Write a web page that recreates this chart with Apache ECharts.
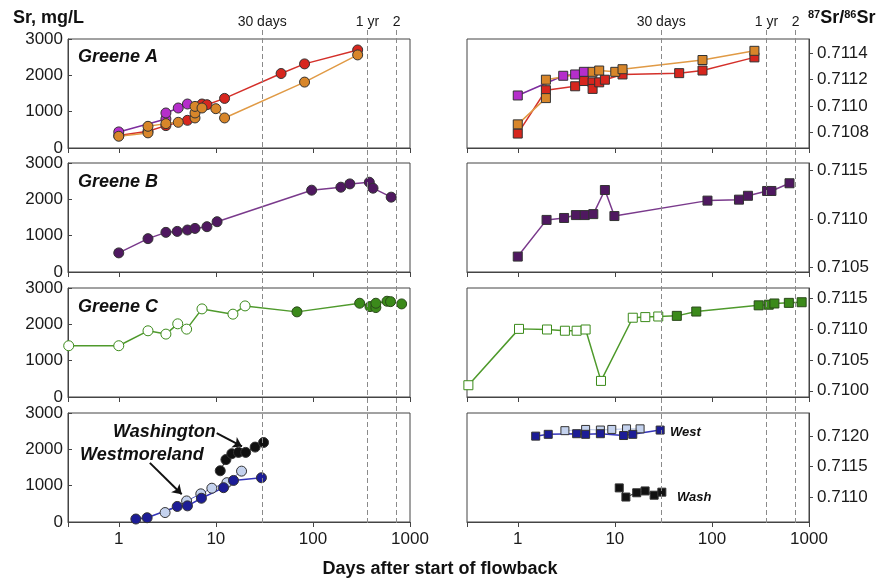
<!DOCTYPE html>
<html>
<head>
<meta charset="utf-8">
<script src="https://cdn.jsdelivr.net/npm/echarts@6/dist/echarts.min.js"></script>
<style>
html, body { margin: 0; padding: 0; background: #fff; }
#chart { width: 881px; height: 584px; }
</style>
</head>
<body>
<div id="chart"></div>
<script>
// [days after start of flowback, Sr mg/L]
var greeneA_red_sr = [[1.0,342],[2.0,460],[3.06,616],[5.1,762],[7.2,1211],[8.1,1192],[12.3,1365],[47,2050],[82,2315],[289,2699]];
var greeneA_orange_sr = [[1.0,323],[2.0,416],[2.0,597],[3.06,671],[4.1,707],[6.1,827],[6.1,964],[6.1,1145],[7.2,1101],[10,1082],[12.3,827],[82,1814],[289,2562]];
var greeneA_purple_sr = [[1.0,443],[3.06,800],[3.06,964],[4.1,1101],[5.1,1211]];
var greeneB_sr = [[1.0,526],[2.0,918],[3.06,1091],[4.0,1118],[5.1,1156],[6.1,1200],[8.1,1247],[10.3,1384],[97,2252],[194,2334],[240,2425],[381,2471],[416,2307],[640,2060]];
var greeneC_open_sr = [[0.305,1411],[1.0,1411],[2.0,1822],[3.06,1731],[4.05,2014],[5.0,1868],[7.2,2425],[15,2280],[20,2507]];
var greeneC_filled_sr = [[68.5,2343],[303,2581],[387,2488],[445,2461],[445,2581],[580,2636],[630,2625],[820,2562]];
var west_dark_sr = [[1.5,82],[1.96,117],[4.0,428],[5.1,444],[7.1,654],[12,945],[15.2,1144],[29.5,1218]];
var west_light_sr = [[3.0,260],[5.0,580],[7.0,775],[9.1,930],[13,1082],[18.4,1400]];
var wash_sr = [[11.1,1410],[12.7,1717],[14.6,1880],[17.1,1916],[20.3,1916],[25.4,2062],[31,2188]];

// [days, 87Sr/86Sr]
var greeneA_red_iso = [[1.0,0.71079],[1.95,0.71112],[3.9,0.71115],[4.8,0.71119],[5.9,0.71118],[5.9,0.71113],[6.9,0.71118],[7.9,0.71120],[12,0.71124],[46,0.71125],[80,0.71127],[274,0.71137]];
var greeneA_orange_iso = [[1.0,0.71086],[1.95,0.71106],[1.95,0.71120],[5.9,0.71126],[6.9,0.71127],[10.1,0.71126],[12,0.71128],[80,0.71135],[274,0.71142]];
var greeneA_purple_iso = [[1.0,0.71108],[2.94,0.71123],[3.9,0.71124],[4.8,0.71126]];
var greeneB_iso = [[1.0,0.71061],[1.98,0.71099],[3.0,0.71101],[3.97,0.71104],[4.9,0.71104],[6.0,0.71105],[7.9,0.71130],[9.9,0.71103],[90,0.71119],[190,0.71120],[235,0.71124],[370,0.71129],[410,0.71129],[630,0.71137]];
var greeneC_open_iso = [[0.31,0.71009],[1.03,0.71100],[2.0,0.71099],[3.06,0.71097],[4.04,0.71097],[5.0,0.71099],[7.2,0.71016],[15.3,0.71118],[20.6,0.71119],[28,0.71120]];
var greeneC_filled_iso = [[43.5,0.71121],[69,0.71128],[303,0.71138],[385,0.71139],[440,0.71141],[620,0.71142],[840,0.71143]];
var west_dark_iso = [[1.53,0.71200],[2.06,0.71203],[4.04,0.71204],[5.0,0.71203],[7.1,0.71204],[12.3,0.71201],[15.3,0.71203],[29.3,0.71210]];
var west_light_iso = [[3.06,0.71209],[5.0,0.71211],[7.1,0.71210],[9.3,0.71211],[13.2,0.71212],[18.2,0.71212]];
var wash_iso = [[11.1,0.71115],[13,0.71100],[16.8,0.71107],[20.5,0.71110],[25.4,0.71103],[30.5,0.71108]];

// reference lines (days) and their labels
var refDays = [30, 365, 730];
var refLabels = ['30 days', '1 yr', '2'];

// y ranges of the isotope panels: [min, max, step]
var isoRanges = [[0.71068, 0.71151, 0.0002], [0.71045, 0.71158, 0.0005], [0.70990, 0.71166, 0.0005], [0.71059, 0.71238, 0.0005]];
var srTicks = [0, 3000, 1000];

// arrows for the Washington / Westmoreland labels: [from, to] in [days, mg/L]
var washArrow = [[10.2, 2444], [18.6, 2080]];
var westArrow = [[2.09, 1627], [4.45, 763]];

var FONT = 'Liberation Sans, Arial, Helvetica, sans-serif';
var tops = [39, 163, 288, 413];

var grids = [], xAxes = [], yAxes = [], series = [];

function xLabel(v) {
    var l = Math.log(v) / Math.LN10;
    return Math.abs(l - Math.round(l)) < 1e-6 ? String(Math.round(v)) : '';
}

for (var i = 0; i < 8; i++) {
    var right = i >= 4, row = i % 4;
    grids.push({
        left: right ? 467 : 68, width: 342, top: tops[row], height: 109,
        show: true, borderColor: '#444', borderWidth: 1
    });
    xAxes.push({
        type: 'log', logBase: 10, min: 0.3, max: 1000, gridIndex: i,
        axisLine: { lineStyle: { color: '#444' } },
        axisTick: { length: 5, lineStyle: { color: '#444' } },
        axisLabel: { show: row === 3, formatter: xLabel, fontSize: 17, color: '#1a1a1a', fontFamily: FONT, margin: 9 },
        splitLine: { show: false }
    });
    if (!right) {
        yAxes.push({
            type: 'value', gridIndex: i, min: srTicks[0], max: srTicks[1], interval: srTicks[2],
            axisLine: { show: true, lineStyle: { color: '#444' } },
            axisTick: { show: true, inside: true, length: 4, lineStyle: { color: '#444' } },
            axisLabel: { fontSize: 17, color: '#1a1a1a', fontFamily: FONT, margin: 5,
                formatter: function (v) { return String(v); } },
            splitLine: { show: false }
        });
    } else {
        var r = isoRanges[row];
        yAxes.push({
            type: 'value', gridIndex: i, position: 'right', min: r[0], max: r[1],
            splitNumber: 4, minInterval: r[2], maxInterval: r[2],
            axisLine: { show: true, lineStyle: { color: '#444' } },
            axisTick: { show: true, length: 4, lineStyle: { color: '#444' } },
            axisLabel: {
                fontSize: 17, color: '#1a1a1a', fontFamily: FONT, margin: 8,
                showMinLabel: false, showMaxLabel: false,
                formatter: (function (step) {
                    return function (v) {
                        var k = v / step;
                        return Math.abs(k - Math.round(k)) < 1e-3 ? v.toFixed(4) : '';
                    };
                })(r[2])
            },
            splitLine: { show: false }
        });
    }
}

// overlay grids for the dashed time lines, spanning all panels
[68, 467].forEach(function (left, k) {
    var gi = 8 + k;
    grids.push({ left: left, width: 342, top: 30, height: 493, show: false });
    xAxes.push({ type: 'log', logBase: 10, min: 0.3, max: 1000, gridIndex: gi, show: false });
    yAxes.push({ type: 'value', min: 0, max: 1, gridIndex: gi, show: false });
    series.push({
        type: 'line', xAxisIndex: gi, yAxisIndex: gi, data: [], z: 1, silent: true,
        markLine: {
            silent: true, symbol: ['none', 'none'], animation: false,
            lineStyle: { type: [5, 3], color: '#8a8a8a', width: 1 },
            label: { position: 'end', distance: 1, fontSize: 14, color: '#1a1a1a', fontFamily: FONT, formatter: '{b}' },
            data: refDays.map(function (d, j) { return { xAxis: d, name: refLabels[j] }; })
        }
    });
});

function add(idx, data, o) {
    series.push({
        type: 'line', xAxisIndex: idx, yAxisIndex: idx, data: data, z: o.z || 3,
        symbol: o.symbol || 'circle', symbolSize: o.size || 10,
        lineStyle: { color: o.line, width: o.lw == null ? 1.5 : o.lw },
        itemStyle: { color: o.fill, borderColor: o.border || '#333', borderWidth: 1 },
        markLine: o.markLine
    });
}

var RED = '#d7261e', REDL = '#d4302a', ORA = '#d8862a', ORAL = '#e09a45';
var PUR = '#b52ecb', PURL = '#7d2d9e', GB = '#4f1860', GBL = '#7a3a8c';
var GRN = '#3b8a1a', GRNL = '#4f9a2c', NAV = '#1c1c96', NAVL = '#3535b8', LB = '#c4d2ee';

// Greene A
add(0, greeneA_red_sr, { fill: RED, line: REDL });
add(0, greeneA_purple_sr, { fill: PUR, line: PURL });
add(0, greeneA_orange_sr, { fill: ORA, line: ORAL });
add(4, greeneA_red_iso, { fill: RED, line: REDL, symbol: 'rect', size: 9 });
add(4, greeneA_purple_iso, { fill: PUR, line: PURL, symbol: 'rect', size: 9 });
add(4, greeneA_orange_iso, { fill: ORA, line: ORAL, symbol: 'rect', size: 9 });
// Greene B
add(1, greeneB_sr, { fill: GB, line: GBL });
add(5, greeneB_iso, { fill: GB, line: GBL, symbol: 'rect', size: 9 });

// Greene C: open symbols early, filled later, one connected line
function greeneC(open, filled) {
    return open.map(function (p) {
        return { value: p, itemStyle: { color: '#fff', borderColor: GRN } };
    }).concat(filled);
}
add(2, greeneC(greeneC_open_sr, greeneC_filled_sr), { fill: GRN, line: GRNL, border: '#2a4a1a' });
add(6, greeneC(greeneC_open_iso, greeneC_filled_iso), { fill: GRN, line: GRNL, border: '#2a4a1a', symbol: 'rect', size: 9 });

// Washington / Westmoreland
var arrowLine = {
    silent: true, symbol: ['none', 'arrow'], symbolSize: 9, animation: false,
    label: { show: false },
    lineStyle: { type: 'solid', color: '#111', width: 2 },
    data: [
        [{ coord: washArrow[0] }, { coord: washArrow[1] }],
        [{ coord: westArrow[0] }, { coord: westArrow[1] }]
    ]
};
add(3, west_light_sr, { fill: LB, line: '#5a64c4', lw: 1 });
add(3, west_dark_sr, { fill: NAV, line: NAVL });
add(3, wash_sr, { fill: '#111', line: '#111', lw: 1, markLine: arrowLine });
add(7, west_light_iso, { fill: LB, line: '#b8c6e8', lw: 1, symbol: 'rect', size: 8 });
add(7, west_dark_iso, { fill: NAV, line: NAVL, symbol: 'rect', size: 8 });
add(7, wash_iso, { fill: '#111', line: '#111', lw: 1, symbol: 'rect', size: 8 });

function txt(x, y, s, size, extra) {
    var st = { x: x, y: y, text: s, fill: '#111', textVerticalAlign: 'middle',
        font: (extra || 'bold') + ' ' + size + 'px ' + FONT };
    return { type: 'text', z: 10, style: st };
}

var graphics = [
    txt(13, 18, 'Sr, mg/L', 18),
    txt(78, 57, 'Greene A', 18, 'italic bold'),
    txt(78, 182, 'Greene B', 18, 'italic bold'),
    txt(78, 307, 'Greene C', 18, 'italic bold'),
    txt(113, 432, 'Washington', 18, 'italic bold'),
    txt(80, 455, 'Westmoreland', 18, 'italic bold'),
    txt(670, 432, 'West', 13, 'italic bold'),
    txt(677, 497, 'Wash', 13, 'italic bold'),
    {
        type: 'text', z: 10,
        style: { x: 440, y: 569, text: 'Days after start of flowback', fill: '#111',
            textAlign: 'center', textVerticalAlign: 'middle', font: 'bold 18px ' + FONT }
    },
    {
        type: 'text', z: 10,
        style: {
            x: 808, y: 18, textVerticalAlign: 'middle', fill: '#111',
            text: '{s|87}{b|Sr/}{s|86}{b|Sr}',
            rich: {
                s: { fontSize: 11, fontWeight: 'bold', fontFamily: FONT, verticalAlign: 'top', fill: '#111' },
                b: { fontSize: 18, fontWeight: 'bold', fontFamily: FONT, fill: '#111' }
            }
        }
    }
];

var chart = echarts.init(document.getElementById('chart'), null, { renderer: 'canvas' });
chart.setOption({
    animation: false,
    backgroundColor: '#fff',
    textStyle: { fontFamily: FONT },
    grid: grids,
    xAxis: xAxes,
    yAxis: yAxes,
    series: series,
    graphic: graphics
});
</script>
</body>
</html>
